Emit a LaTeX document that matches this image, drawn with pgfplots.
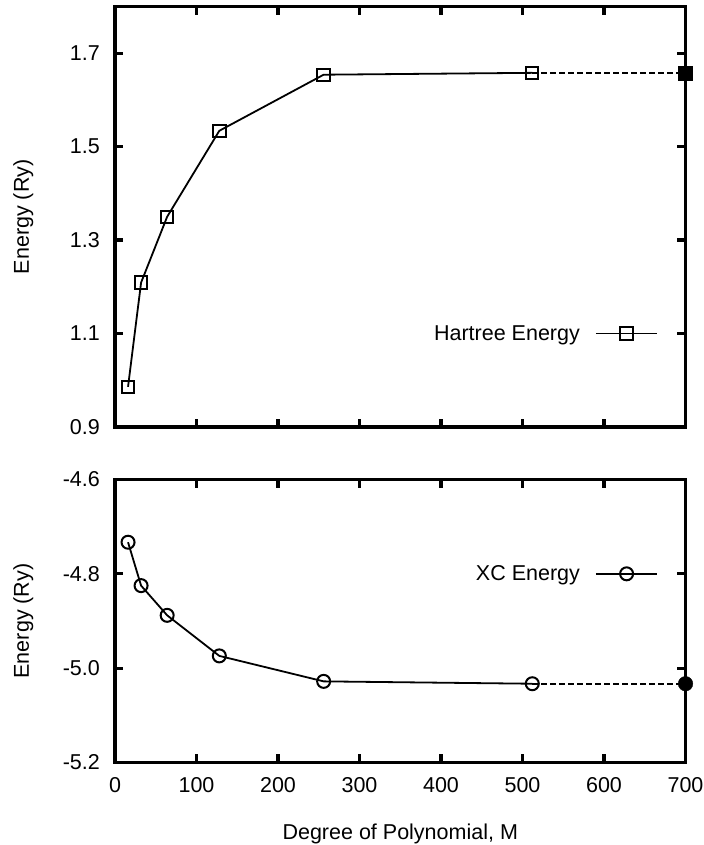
\documentclass[border=0pt]{standalone}
\usepackage{pgfplots}
\pgfplotsset{compat=1.18}
\usepackage{fontspec}
\setmainfont{Liberation Sans}
\begin{document}
\begin{tikzpicture}[x=1bp,y=1bp,font=\fontsize{21.5bp}{26bp}\selectfont]
\useasboundingbox (0,0) rectangle (704,845);
\pgfplotsset{
  myaxis/.style={
    scale only axis,
    width=570.5bp,
    xmin=0, xmax=700,
    xtick={0,100,...,700},
    clip=false,
    axis line style={line width=3.5bp},
    every tick/.style={black, line width=3.3bp},
    major tick length=8.3bp,
    tick align=inside,
    /pgf/number format/assume math mode=true,
    yticklabel style={inner sep=0pt, xshift=-15bp,
      /pgf/number format/.cd, fixed, fixed zerofill, precision=1},
    xticklabel style={inner sep=0pt, yshift=-15bp},
    ylabel style={at={(axis description cs:-0.1429,0.5)}, anchor=south, inner sep=0pt},
    legend plot pos=right,
    legend style={draw=none, fill=none, anchor=east, inner sep=0pt, outer sep=0pt,
      nodes={inner sep=0pt}, column sep=15bp},
    legend image code/.code={\draw[mark repeat=2,mark phase=2,##1] plot coordinates {(0bp,0bp) (30.8bp,0bp) (61.6bp,0bp)};},
  },
}
\begin{axis}[myaxis,
  at={(115bp,418bp)}, anchor=south west,
  height=420.5bp,
  ymin=0.9, ymax=1.8,
  ytick={0.9,1.1,1.3,1.5,1.7},
  xticklabels={},
  ylabel={Energy (Ry)},
  legend style={at={(0.9523,0.2222)}},
]
\addplot[black, line width=1.8bp, dash pattern=on 5.5bp off 3.5bp, forget plot] coordinates {(512,1.658) (700,1.658)};
\addplot[black, line width=1.8bp, mark=square, mark size=6.2bp, mark options={solid, line width=2bp}] coordinates {
(16,0.986) (32,1.209) (64,1.350) (128,1.534) (256,1.654) (512,1.658)};
\addlegendentry{Hartree Energy}
\addplot[black, only marks, mark=square*, mark size=7bp, forget plot] coordinates {(700,1.658)};
\end{axis}
\begin{axis}[myaxis,
  at={(115bp,82.5bp)}, anchor=south west,
  height=283bp,
  ymin=-5.2, ymax=-4.6,
  ytick={-5.2,-5.0,-4.8,-4.6},
  ylabel={Energy (Ry)},
  xlabel={Degree of Polynomial, M},
  xlabel style={at={(axis description cs:0.5,-0.2714)}, anchor=base, inner sep=0pt},
  legend style={at={(0.9523,0.6667)}},
]
\addplot[black, line width=1.8bp, dash pattern=on 5.5bp off 3.5bp, forget plot] coordinates {(512,-5.033) (700,-5.033)};
\addplot[black, line width=1.8bp, mark=o, mark size=6.5bp, mark options={solid, line width=2bp}] coordinates {
(16,-4.733) (32,-4.825) (64,-4.888) (128,-4.974) (256,-5.028) (512,-5.033)};
\addlegendentry{XC Energy}
\addplot[black, only marks, mark=*, mark size=7.3bp, forget plot] coordinates {(700,-5.033)};
\end{axis}
\end{tikzpicture}
\end{document}
